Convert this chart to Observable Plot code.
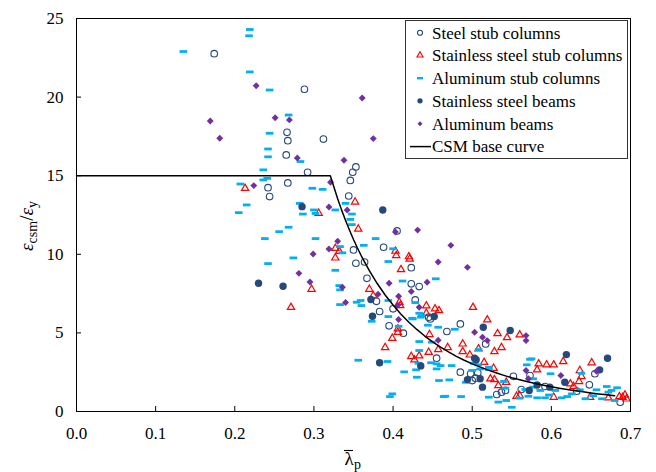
<!DOCTYPE html>
<html>
<head>
<meta charset="utf-8">
<script src="https://cdn.jsdelivr.net/npm/d3@7"></script>
<script src="https://cdn.jsdelivr.net/npm/@observablehq/plot@0.6"></script>
<style>
  body { margin: 0; background: #fff; }
  #chart { width: 656px; height: 472px; }
  #chart svg, #chart svg text, #chart svg tspan { font-family: "Liberation Serif", "Times New Roman", "DejaVu Serif", serif !important; }
</style>
</head>
<body>
<div id="chart"></div>
<script>
// ---- data: [lambda_p, eps_csm/eps_y] ----
const steelStubColumns = [
  [0.174,22.76],[0.288,20.5],[0.266,17.76],[0.267,17.23],[0.312,17.33],[0.265,16.32],[0.353,15.56],
  [0.349,15.22],[0.292,15.22],[0.346,14.7],[0.267,14.54],[0.242,14.24],[0.244,13.67],[0.344,13.71],
  [0.405,11.49],[0.350,10.28],[0.388,10.45],[0.353,9.43],[0.364,9.51],[0.367,8.47],[0.379,7.01],
  [0.383,6.36],[0.395,5.45],[0.423,9.15],[0.423,8.12],[0.433,7.95],[0.400,6.53],[0.428,7.1],
  [0.445,6.0],[0.413,4.98],[0.485,5.57],[0.447,5.89],[0.468,5.09],[0.455,3.39],[0.517,4.3],
  [0.485,2.5],[0.504,2.12],[0.500,1.97],[0.552,2.24],[0.531,1.08],[0.537,1.23],[0.542,1.34],
  [0.562,1.4],[0.648,1.7],[0.655,2.4],[0.687,0.59],[0.632,1.29],[0.592,1.59],[0.498,2.4],
  [0.507,2.46],[0.573,2.29]
];
const stainlessStubColumns = [
  [0.213,14.2],[0.352,13.33],[0.306,12.61],[0.356,11.61],[0.327,10.38],[0.403,10.2],[0.404,9.92],
  [0.420,9.85],[0.421,9.7],[0.410,9.03],[0.332,10.19],[0.327,9.77],[0.297,7.78],[0.271,6.63],
  [0.370,7.78],[0.375,7.37],[0.390,4.07],[0.408,6.95],[0.409,6.74],[0.442,6.72],[0.442,6.25],
  [0.406,5.26],[0.406,5.04],[0.399,4.66],[0.423,3.5],[0.427,3.29],[0.433,3.54],[0.446,4.9],
  [0.445,3.77],[0.453,6.53],[0.458,6.42],[0.501,6.63],[0.519,5.83],[0.457,3.94],[0.469,4.07],
  [0.488,4.3],[0.488,3.81],[0.532,4.96],[0.544,4.7],[0.560,4.88],[0.528,3.81],[0.537,4.07],
  [0.515,3.13],[0.527,2.75],[0.523,2.08],[0.528,2.03],[0.533,1.65],[0.543,1.86],[0.556,0.97],
  [0.560,1.02],[0.497,3.6],[0.508,3.99],[0.651,3.10],[0.615,3.18],[0.603,2.97],[0.594,2.97],
  [0.584,3.03],[0.582,2.65],[0.636,2.61],[0.638,2.23],[0.635,1.91],[0.624,1.76],[0.628,1.59],
  [0.603,0.91],[0.649,0.91],[0.672,0.87],[0.690,0.9],[0.693,1.05],[0.695,0.8],[0.686,0.95]
];
const aluminumStubColumns = [
  [0.219,24.3],[0.218,23.9],[0.135,22.9],[0.219,21.6],[0.244,20.45],[0.268,18.86],[0.244,17.7],
  [0.242,16.7],[0.242,16.2],[0.283,15.9],[0.236,15.37],[0.241,14.83],[0.236,14.73],[0.207,14.47],
  [0.298,14.2],[0.311,14.13],[0.215,13.14],[0.282,13.24],[0.300,12.82],[0.327,12.82],[0.340,13.24],
  [0.286,12.56],[0.348,12.56],[0.346,12.22],[0.348,11.89],[0.302,11.0],[0.378,11.0],[0.363,10.57],
  [0.333,10.49],[0.205,12.65],[0.302,12.6],[0.268,11.72],[0.256,11.44],[0.238,11.0],[0.274,9.77],
  [0.242,9.41],[0.336,10.09],[0.327,8.98],[0.394,9.54],[0.332,8.01],[0.333,7.74],[0.359,7.06],
  [0.354,6.95],[0.360,6.74],[0.333,6.8],[0.394,7.06],[0.373,5.74],[0.394,6.04],[0.356,3.26],
  [0.393,3.18],[0.396,0.95],[0.412,8.3],[0.407,5.42],[0.424,5.93],[0.435,6.0],[0.428,6.93],
  [0.433,6.25],[0.444,5.49],[0.414,2.52],[0.430,2.18],[0.429,2.65],[0.432,3.07],[0.433,3.88],
  [0.433,4.45],[0.454,8.44],[0.457,5.36],[0.478,5.23],[0.449,4.41],[0.508,3.94],[0.575,3.35],
  [0.448,3.1],[0.460,2.92],[0.474,2.92],[0.455,2.71],[0.458,1.97],[0.471,2.01],[0.492,1.86],
  [0.510,2.71],[0.521,2.67],[0.500,2.61],[0.540,1.91],[0.542,1.48],[0.466,0.97],[0.486,0.95],
  [0.521,0.91],[0.543,0.7],[0.550,0.27],[0.567,1.4],[0.571,0.97],[0.577,1.55],[0.599,2.4],
  [0.577,2.08],[0.586,1.34],[0.605,1.34],[0.636,1.38],[0.670,1.59],[0.676,1.34],[0.657,1.38],
  [0.592,0.87],[0.613,0.87],[0.643,0.81],[0.664,0.81],[0.672,1.23],[0.573,3.32],[0.638,2.43],
  [0.626,1.12],[0.582,0.87],[0.683,1.51],[0.425,5.89],[0.436,6.1],[0.455,3.03],[0.464,0.95],
  [0.569,2.97],[0.502,3.07],[0.508,2.97],[0.521,2.82],[0.399,1.12],[0.400,10.35],
  [0.597,1.05],[0.620,0.95],[0.653,1.0],[0.680,0.7],[0.560,0.85],[0.533,0.6]
];
const stainlessBeams = [
  [0.285,13.03],[0.387,12.82],[0.230,8.16],[0.261,7.97],[0.372,7.12],[0.374,6.06],[0.383,3.10],
  [0.435,2.9],[0.452,6.04],[0.514,5.36],[0.548,5.15],[0.503,3.39],[0.505,3.29],[0.494,2.03],
  [0.510,2.08],[0.513,1.55],[0.572,1.34],[0.619,3.62],[0.671,3.39],[0.661,2.65],[0.617,1.86],
  [0.582,1.69],[0.598,1.55]
];
const aluminumBeams = [
  [0.227,20.72],[0.361,19.94],[0.169,18.48],[0.251,18.69],[0.269,18.55],[0.181,17.38],[0.375,17.36],
  [0.279,16.13],[0.338,15.98],[0.321,14.58],[0.224,14.37],[0.319,13.01],[0.342,12.82],[0.403,11.42],
  [0.431,11.54],[0.330,10.83],[0.319,10.34],[0.299,10.02],[0.281,8.79],[0.295,8.24],[0.336,7.9],
  [0.340,6.93],[0.381,7.46],[0.395,8.16],[0.407,7.33],[0.423,7.63],[0.443,8.22],[0.406,6.76],
  [0.433,6.63],[0.407,5.85],[0.457,9.51],[0.494,9.17],[0.473,10.57],[0.503,5.04],[0.513,4.72],
  [0.519,4.51],[0.457,4.53],[0.568,4.83],[0.568,4.51],[0.568,2.61],[0.571,2.08],[0.612,2.29],
  [0.657,2.56]
];
const csmBaseCurve = [
  [0,15],[0.3207,15],[0.33,13.53],[0.335,12.81],[0.34,12.15],[0.345,11.53],[0.35,10.94],[0.355,10.40],
  [0.36,9.89],[0.37,8.96],[0.38,8.14],[0.39,7.41],[0.40,6.77],[0.41,6.19],[0.42,5.68],[0.43,5.22],
  [0.44,4.80],[0.45,4.43],[0.46,4.09],[0.47,3.79],[0.48,3.51],[0.49,3.26],[0.50,3.03],[0.52,2.63],
  [0.53,2.46],[0.54,2.30],[0.55,2.15],[0.56,2.02],[0.57,1.89],[0.58,1.78],[0.59,1.67],[0.60,1.57],
  [0.61,1.48],[0.62,1.40],[0.63,1.32],[0.64,1.25],[0.65,1.18],[0.66,1.12],[0.67,1.06],[0.68,1.00]
];
const xTicks = [0,0.1,0.2,0.3,0.4,0.5,0.6,0.7];
const yTicks = [0,5,10,15,20,25];
const legendLabels = ["Steel stub columns","Stainless steel stub columns","Aluminum stub columns",
  "Stainless steel beams","Aluminum beams","CSM base curve"];

// ---- styles ----
const FONT = "Liberation Serif";
const BLUE = "#25497a", RED = "#ff0000", CYAN = "#00b0f0", PURPLE = "#7030a0";
const dashSymbol = { draw(ctx) { ctx.rect(-3.8, -1.4, 7.6, 2.8); } };
const X = d => d[0], Y = d => d[1];

const plot = Plot.plot({
  width: 656, height: 472,
  marginLeft: 76, marginRight: 26, marginTop: 18, marginBottom: 61,
  style: { fontSize: "17px", background: "#fff", color: "#000", fontFamily: FONT },
  x: { domain: [0, 0.7] },
  y: { domain: [0, 25] },
  marks: [
    Plot.axisX({ ticks: xTicks, tickFormat: d3.format(".1f"), tickSize: -5, tickPadding: 20, label: null, fontSize: 17, fontFamily: FONT }),
    Plot.axisY({ ticks: yTicks, tickFormat: d3.format("d"), tickSize: -5, tickPadding: 18, label: null, fontSize: 17, fontFamily: FONT }),
    Plot.dot(steelStubColumns, { x: X, y: Y, r: 3.3, stroke: BLUE, fill: "none", strokeWidth: 1.1 }),
    Plot.dot(stainlessStubColumns, { x: X, y: Y, symbol: "triangle", r: 2.7, stroke: RED, fill: "none", strokeWidth: 1.2 }),
    Plot.dot(aluminumStubColumns, { x: X, y: Y, symbol: dashSymbol, fill: CYAN, stroke: "none" }),
    Plot.dot(stainlessBeams, { x: X, y: Y, r: 3.7, fill: BLUE, stroke: "none" }),
    Plot.dot(aluminumBeams, { x: X, y: Y, symbol: "diamond2", r: 3.1, fill: PURPLE, stroke: "none" }),
    Plot.line(csmBaseCurve, { x: X, y: Y, stroke: "#000", strokeWidth: 1.5 }),
    Plot.frame({ stroke: "#000", strokeWidth: 1 })
  ]
});
document.getElementById("chart").appendChild(plot);

const svg = d3.select(plot);

// ---- axis titles ----
const yl = svg.append("text")
  .attr("transform", "translate(33,226) rotate(-90)")
  .attr("text-anchor", "middle").attr("font-family", FONT)
  .attr("font-size", 19).attr("fill", "#000");
yl.append("tspan").attr("font-style", "italic").text("ε");
yl.append("tspan").attr("font-size", 14).attr("dy", 4).text("csm");
yl.append("tspan").attr("dy", -4).text("/");
yl.append("tspan").attr("font-style", "italic").text("ε");
yl.append("tspan").attr("font-size", 14).attr("dy", 4).text("y");

const xl = svg.append("g").attr("fill", "#000").attr("font-family", FONT);
xl.append("text").attr("x", 349).attr("y", 465).attr("text-anchor", "middle").attr("font-size", 19).text("λ");
xl.append("line").attr("x1", 344).attr("x2", 353).attr("y1", 450.5).attr("y2", 450.5).attr("stroke", "#000").attr("stroke-width", 1.1);
xl.append("text").attr("x", 354).attr("y", 469).attr("text-anchor", "start").attr("font-size", 14).text("p");

// ---- legend ----
const lg = svg.append("g").attr("font-size", 17).attr("text-anchor", "start").attr("font-family", FONT);
lg.append("rect").attr("x", 405.5).attr("y", 20.5).attr("width", 222).attr("height", 138)
  .attr("fill", "#fff").attr("stroke", "#333").attr("stroke-width", 1);
const rowY = [32.7, 55.2, 78.2, 100.8, 123.8, 146.6];
const sym = [
  { type: d3.symbolCircle, size: 20, fill: "none", stroke: BLUE },
  { type: d3.symbolTriangle, size: 16, fill: "none", stroke: RED },
  null,
  { type: d3.symbolCircle, size: 22, fill: BLUE, stroke: "none" },
  { type: d3.symbolDiamond2, size: 16, fill: PURPLE, stroke: "none" },
  null
];
legendLabels.forEach((label, i) => {
  const cy = rowY[i];
  if (i === 2) {
    lg.append("rect").attr("x", 417).attr("y", cy - 1.2).attr("width", 6).attr("height", 2.4).attr("fill", CYAN);
  } else if (i === 5) {
    lg.append("line").attr("x1", 410).attr("x2", 431).attr("y1", cy).attr("y2", cy)
      .attr("stroke", "#000").attr("stroke-width", 1.5);
  } else {
    const s = sym[i];
    lg.append("path").attr("d", d3.symbol(s.type, s.size)())
      .attr("transform", `translate(420,${cy})`)
      .attr("fill", s.fill).attr("stroke", s.stroke).attr("stroke-width", 1.1);
  }
  lg.append("text").attr("x", 432).attr("y", cy + 5.8).attr("fill", "#000").attr("text-anchor", "start").text(label);
});
</script>
</body>
</html>
